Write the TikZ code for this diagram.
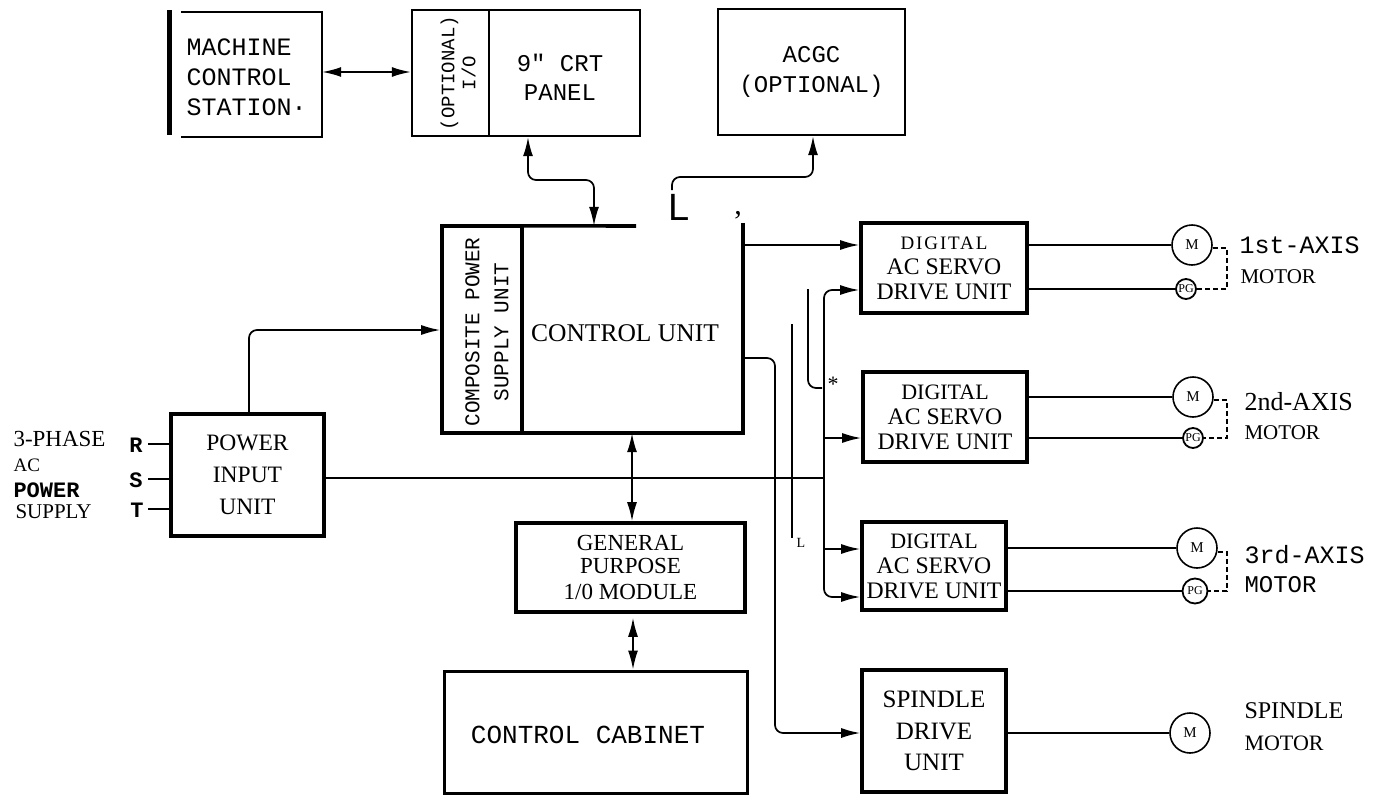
\documentclass[tikz,border=0pt]{standalone}
\usepackage{fontspec}
\setmainfont{Liberation Serif}
\newfontfamily\monofnt{Liberation Mono}
\newfontfamily\sansfnt{Liberation Sans}
\usetikzlibrary{arrows.meta}
\newcommand{\setfs}[2]{\fontsize{#1}{#2}\selectfont}
\begin{document}
\begin{tikzpicture}[x=1pt,y=-1pt,
  conn/.style={line width=1.7pt},
  arr/.style={conn,-{Latex[length=19pt,width=10pt]}},
  darr/.style={conn,{Latex[length=19pt,width=10pt]}-{Latex[length=19pt,width=10pt]}},
  heavy/.style={draw,line width=3.6pt,inner sep=0pt,rectangle},
  light/.style={draw,line width=2.4pt,inner sep=0pt,rectangle},
  blank/.style={inner sep=0pt,rectangle},
  mot/.style={draw,circle,line width=1.6pt,inner sep=0pt,minimum size=40pt,font=\setfs{15}{15}},
  pg/.style={draw,circle,line width=1.8pt,inner sep=0pt,font=\setfs{12}{12}},
  dsh/.style={line width=1.3pt,dash pattern=on 5pt off 3pt},
  servotext/.style={align=center,font=\setfs{23.7}{25}},
]
\useasboundingbox (0,0) rectangle (1379,795);

% ---------------- machine control station
\node[blank,minimum width=141pt,minimum height=125pt] (mcs) at (251.5,74.5) {};
\draw[line width=2.2pt] (mcs.north west) -- (mcs.north east) -- (mcs.south east) -- (mcs.south west);
\draw[line width=5pt] (169,10) -- (169,135);
\node[anchor=west,align=left,font=\monofnt\setfs{25}{30}] (mcstxt) at (183,77) {MACHINE\\CONTROL\\STATION·};

% ---------------- I/O + CRT panel
\node[light,minimum width=77pt,minimum height=126pt] (io) at (450.5,73) {};
\node[light,minimum width=151pt,minimum height=126pt] (crt) at (564.5,73) {};
\node[rotate=90,align=center,font=\monofnt\setfs{19}{21}] (iotxt) at (458,73) {(OPTIONAL)\\I/O};
\node[align=center,font=\monofnt\setfs{24}{29}] (crttxt) at (560,77) {9" CRT\\PANEL};

% ---------------- ACGC
\node[light,minimum width=187pt,minimum height=126pt,align=center,font=\monofnt\setfs{24}{30}] (acgc) at (811.5,72) {ACGC\\(OPTIONAL)};

% ---------------- composite power supply + control unit
\node[heavy,minimum width=80pt,minimum height=207pt] (cps) at (482,329.5) {};
\node[blank,minimum width=221pt,minimum height=207pt] (cu) at (632.5,329.5) {};
\draw[line width=3.6pt] (cu.north west) -- (636,226);
\draw[line width=3.6pt] ([yshift=3pt]cu.north east) -- (cu.south east) -- (cu.south west);
\node[font=\setfs{25.5}{27}] (cutxt) at (625,333) {CONTROL UNIT};
\node[rotate=90,align=center,font=\monofnt\setfs{21}{29}] (cpstxt) at (487,332) {COMPOSITE POWER\\SUPPLY UNIT};
\node[font=\sansfnt\setfs{38}{38}] (bigL) at (679,207) {L};
\node[font=\setfs{30}{30}] (comma) at (738,215) {,};

% ---------------- power input unit
\node[heavy,minimum width=153pt,minimum height=122pt,align=center,font=\setfs{23.5}{32}] (piu) at (247.5,475) {POWER\\INPUT\\UNIT};
\node[anchor=west,font=\setfs{23}{23}] (ph1) at (10,439) {3-PHASE};
\node[anchor=west,font=\setfs{19}{19}] (ph2) at (10,465) {AC};
\node[anchor=west,font=\monofnt\bfseries\setfs{22}{22}] (ph3) at (10,490) {POWER};
\node[anchor=west,font=\setfs{21}{21}] (ph4) at (12,512) {SUPPLY};
\node[font=\monofnt\bfseries\setfs{22}{22}] (pR) at (136,445) {R};
\node[font=\monofnt\bfseries\setfs{22}{22}] (pS) at (136,480) {S};
\node[font=\monofnt\bfseries\setfs{22}{22}] (pT) at (137,510) {T};
\draw[conn] (148,444) -- (piu.west |- 0,444);
\draw[conn] (148,479) -- (piu.west |- 0,479);
\draw[conn] (148,509) -- (piu.west |- 0,509);

% ---------------- general purpose I/O + cabinet
\node[heavy,minimum width=229pt,minimum height=89pt,align=center,font=\setfs{23}{23}] (gp) at (630.5,567.5) {GENERAL\\[0pt]PURPOSE\\[3pt]1/0 MODULE};
\node[draw,line width=3pt,inner sep=0pt,minimum width=303pt,minimum height=122pt] (cab) at (595.5,732) {};
\node[font=\monofnt\setfs{26}{26}] (cabtxt) at (588,735) {CONTROL CABINET};

% ---------------- servo drive units
\node[heavy,minimum width=166pt,minimum height=90pt,servotext] (s1) at (944,268) {{\setfs{19}{25}\addfontfeature{LetterSpace=10}DIGITAL}\\AC SERVO\\DRIVE UNIT};
\node[heavy,minimum width=164pt,minimum height=90pt,servotext] (s2) at (945,417) {{\setfs{22}{25}DIGITAL}\\AC SERVO\\DRIVE UNIT};
\node[heavy,minimum width=144pt,minimum height=88pt,servotext] (s3) at (934,566) {{\setfs{22}{25}DIGITAL}\\AC SERVO\\DRIVE UNIT};
\node[heavy,minimum width=144pt,minimum height=122pt,align=center,font=\setfs{25}{31.5}] (sp) at (934,731) {SPINDLE\\DRIVE\\UNIT};

% ---------------- connectors
\draw[darr] (mcs.east |- 0,72) -- (io.west |- 0,72);
\draw[darr,rounded corners=8pt] (crt.south -| 528,0) -- (528,180) -- (594,180) -- (cu.north -| 594,0);
\draw[arr,rounded corners=8pt] (672,190) -- (672,177) -- (813,177) -- (acgc.south -| 813,0);
\draw[arr] (cu.east |- 0,245) -- (s1.west |- 0,245);
\draw[arr,rounded corners=8pt] (piu.north -| 249,0) -- (249,330) -- (cps.west |- 0,330);
\draw[conn] (piu.east |- 0,478) -- (824,478);
\draw[arr,rounded corners=8pt] (824,478) -- (824,290) -- (s1.west |- 0,290);
\draw[arr,rounded corners=8pt] (824,478) -- (824,597) -- (s3.west |- 0,597);
\draw[arr] (824,438) -- (s2.west |- 0,438);
\draw[arr] (824,549) -- (s3.west |- 0,549);
\draw[conn,rounded corners=8pt] (808,289) -- (808,388) -- (822,388);
\node[font=\setfs{22}{22}] (star) at (833,384) {*};
\draw[conn] (792,324) -- (792,538);
\node[font=\setfs{14}{14}] (smallL) at (801,543) {L};
\draw[arr,rounded corners=8pt] (cu.east |- 0,358) -- (775,358) -- (775,733) -- (sp.west |- 0,733);
\draw[darr] (cu.south -| 632,0) -- (gp.north -| 632,0);
\draw[darr,shorten <=4pt] (gp.south -| 633,0) -- (cab.north -| 633,0);

% ---------------- motors
\node[mot] (m1) at (1192,245) {M};
\node[pg,minimum size=20pt] (pg1) at (1186,289) {PG};
\draw[conn] (s1.east |- m1) -- (m1.west);
\draw[conn] (s1.east |- pg1) -- (pg1.west);
\draw[dsh] ([yshift=-3pt]m1.east) -| (1227,289) -- (pg1.east);

\node[mot] (m2) at (1193,397) {M};
\node[pg,minimum size=20pt] (pg2) at (1193,438) {PG};
\draw[conn] (s2.east |- m2) -- (m2.west);
\draw[conn] (s2.east |- pg2) -- (pg2.west);
\draw[dsh] ([yshift=-3pt]m2.east) -| (1227,438) -- (pg2.east);

\node[mot] (m3) at (1197,548) {M};
\node[pg,minimum size=25pt] (pg3) at (1195,591) {PG};
\draw[conn] (s3.east |- m3) -- (m3.west);
\draw[conn] (s3.east |- pg3) -- (pg3.west);
\draw[dsh] ([yshift=-4pt]m3.east) -| (1227,591) -- (pg3.east);

\node[mot] (m4) at (1190,733) {M};
\draw[conn] (sp.east |- m4) -- (m4.west);

% ---------------- motor labels
\node[anchor=west,font=\monofnt\setfs{25}{25}] (t1a) at (1236,245) {1st-AXIS};
\node[anchor=west,font=\setfs{21}{21}] (t1b) at (1237,277) {MOTOR};
\node[anchor=west,font=\setfs{26}{26}] (t2a) at (1241,402) {2nd-AXIS};
\node[anchor=west,font=\setfs{21}{21}] (t2b) at (1241,433) {MOTOR};
\node[anchor=west,font=\monofnt\setfs{25}{25}] (t3a) at (1241,555) {3rd-AXIS};
\node[anchor=west,font=\monofnt\setfs{24}{24}] (t3b) at (1241,585) {MOTOR};
\node[anchor=west,font=\setfs{24}{24}] (t4a) at (1241,711) {SPINDLE};
\node[anchor=west,font=\setfs{22}{22}] (t4b) at (1241,743) {MOTOR};
\end{tikzpicture}
\end{document}
